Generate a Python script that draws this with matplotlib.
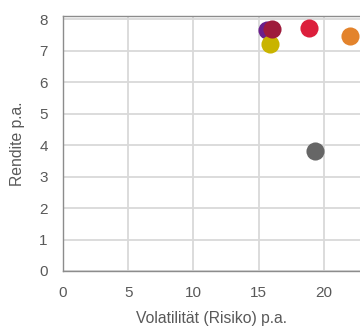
import matplotlib
matplotlib.use("Agg")
import matplotlib.pyplot as plt

plt.rcParams["font.family"] = ["Liberation Sans", "DejaVu Sans"]

# risk / return per fund
volatility = [15.6, 16.0, 15.85, 18.85, 22.0, 19.3]
returns = [7.64, 7.68, 7.22, 7.71, 7.45, 3.80]
colors = ["#6a1f8c", "#9e1b3c", "#c9b400", "#dc1f3c", "#e3832c", "#666666"]
# draw order: purple under dark red
order = [0, 2, 1, 3, 4, 5]

x_ticks = [0, 5, 10, 15, 20]
y_ticks = [0, 1, 2, 3, 4, 5, 6, 7, 8]

fig = plt.figure(figsize=(3.6, 3.27), dpi=100)
ax = fig.add_axes([0.175, 0.1713, 0.825, 0.7807])

for i in order:
    ax.scatter(volatility[i], returns[i], s=170, color=colors[i],
               linewidths=0, zorder=3, clip_on=False)

ax.set_xlim(0, 22.76)
ax.set_ylim(0, 8.11)
ax.set_xticks(x_ticks)
ax.set_yticks(y_ticks)
ax.grid(True, color="#d9d9d9", linewidth=1.3)
ax.set_axisbelow(True)

for side in ["left", "bottom", "top"]:
    ax.spines[side].set_color("#8c8c8c")
    ax.spines[side].set_linewidth(1.0)
ax.spines["right"].set_visible(False)

ax.tick_params(length=0, labelsize=11, labelcolor="#595959")
ax.tick_params(axis="x", pad=11)
ax.tick_params(axis="y", pad=11)

ax.set_xlabel("Volatilität (Risiko) p.a.", fontsize=11.3, color="#595959", labelpad=8)
ax.set_ylabel("Rendite p.a.", fontsize=11.3, color="#595959", labelpad=10)

fig.savefig("out.png", dpi=100)
